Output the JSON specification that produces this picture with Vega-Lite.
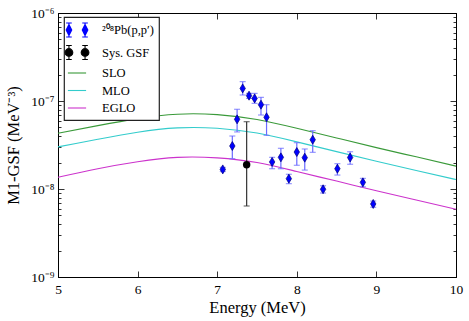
{
  "$schema": "https://vega.github.io/schema/vega-lite/v6.json",
  "width": 398,
  "height": 264,
  "autosize": {"type": "none"},
  "padding": {"left": 58, "top": 13, "right": 13, "bottom": 44},
  "config": {
    "font": "Liberation Serif",
    "view": {"stroke": "black", "strokeWidth": 1},
    "axis": {
      "grid": false,
      "domainColor": "black",
      "domainWidth": 1,
      "tickColor": "black",
      "tickWidth": 0.8,
      "labelColor": "black",
      "titleColor": "black",
      "labelFont": "Liberation Serif",
      "titleFont": "Liberation Serif",
      "labelFontSize": 13.5,
      "titleFontSize": 16.5,
      "titleFontWeight": "normal"
    }
  },
  "datasets": {
    "curves": [
      {"series": "SLO", "x": 5.0, "y": 4.30e-8},
      {"series": "SLO", "x": 5.5, "y": 5.25e-8},
      {"series": "SLO", "x": 6.0, "y": 6.31e-8},
      {"series": "SLO", "x": 6.5, "y": 7.08e-8},
      {"series": "SLO", "x": 7.0, "y": 7.00e-8},
      {"series": "SLO", "x": 7.5, "y": 6.17e-8},
      {"series": "SLO", "x": 8.0, "y": 4.90e-8},
      {"series": "SLO", "x": 8.5, "y": 3.80e-8},
      {"series": "SLO", "x": 9.0, "y": 2.95e-8},
      {"series": "SLO", "x": 9.5, "y": 2.32e-8},
      {"series": "SLO", "x": 10.0, "y": 1.82e-8},
      {"series": "MLO", "x": 5.0, "y": 3.01e-8},
      {"series": "MLO", "x": 5.5, "y": 3.67e-8},
      {"series": "MLO", "x": 6.0, "y": 4.42e-8},
      {"series": "MLO", "x": 6.5, "y": 4.95e-8},
      {"series": "MLO", "x": 7.0, "y": 4.90e-8},
      {"series": "MLO", "x": 7.5, "y": 4.32e-8},
      {"series": "MLO", "x": 8.0, "y": 3.43e-8},
      {"series": "MLO", "x": 8.5, "y": 2.66e-8},
      {"series": "MLO", "x": 9.0, "y": 2.07e-8},
      {"series": "MLO", "x": 9.5, "y": 1.62e-8},
      {"series": "MLO", "x": 10.0, "y": 1.28e-8},
      {"series": "EGLO", "x": 5.0, "y": 1.36e-8},
      {"series": "EGLO", "x": 5.5, "y": 1.70e-8},
      {"series": "EGLO", "x": 6.0, "y": 2.04e-8},
      {"series": "EGLO", "x": 6.5, "y": 2.29e-8},
      {"series": "EGLO", "x": 7.0, "y": 2.26e-8},
      {"series": "EGLO", "x": 7.5, "y": 2.00e-8},
      {"series": "EGLO", "x": 8.0, "y": 1.58e-8},
      {"series": "EGLO", "x": 8.5, "y": 1.23e-8},
      {"series": "EGLO", "x": 9.0, "y": 9.55e-9},
      {"series": "EGLO", "x": 9.5, "y": 7.50e-9},
      {"series": "EGLO", "x": 10.0, "y": 5.90e-9}
    ],
    "pb": [
      {"x": 7.07, "y": 1.67e-8, "lo": 1.58e-8, "hi": 1.76e-8},
      {"x": 7.19, "y": 3.08e-8, "lo": 2.21e-8, "hi": 4.0e-8},
      {"x": 7.25, "y": 6.19e-8, "lo": 4.45e-8, "hi": 8.05e-8},
      {"x": 7.32, "y": 1.39e-7, "lo": 1.17e-7, "hi": 1.66e-7},
      {"x": 7.40, "y": 1.15e-7, "lo": 1.07e-7, "hi": 1.22e-7},
      {"x": 7.47, "y": 1.07e-7, "lo": 9.4e-8, "hi": 1.22e-7},
      {"x": 7.55, "y": 9.08e-8, "lo": 6.93e-8, "hi": 1.10e-7},
      {"x": 7.62, "y": 6.53e-8, "lo": 4.07e-8, "hi": 9.08e-8},
      {"x": 7.69, "y": 2.03e-8, "lo": 1.70e-8, "hi": 2.29e-8},
      {"x": 7.80, "y": 2.29e-8, "lo": 1.70e-8, "hi": 2.90e-8},
      {"x": 7.90, "y": 1.31e-8, "lo": 1.15e-8, "hi": 1.47e-8},
      {"x": 8.00, "y": 2.63e-8, "lo": 1.86e-8, "hi": 3.36e-8},
      {"x": 8.10, "y": 2.27e-8, "lo": 1.64e-8, "hi": 2.85e-8},
      {"x": 8.20, "y": 3.63e-8, "lo": 2.61e-8, "hi": 4.60e-8},
      {"x": 8.33, "y": 9.93e-9, "lo": 9.0e-9, "hi": 1.09e-8},
      {"x": 8.51, "y": 1.70e-8, "lo": 1.44e-8, "hi": 1.94e-8},
      {"x": 8.67, "y": 2.28e-8, "lo": 1.91e-8, "hi": 2.65e-8},
      {"x": 8.83, "y": 1.19e-8, "lo": 1.06e-8, "hi": 1.32e-8},
      {"x": 8.96, "y": 6.76e-9, "lo": 6.2e-9, "hi": 7.3e-9}
    ],
    "sys": [
      {"x": 7.37, "y": 1.89e-8, "lo": 6.41e-9, "hi": 5.82e-8}
    ]
  },
  "layer": [
    {
      "data": {"name": "curves"},
      "mark": {"type": "line", "strokeWidth": 1.1, "interpolate": "natural"},
      "encoding": {
        "x": {
          "field": "x", "type": "quantitative",
          "scale": {"domain": [5, 10], "nice": false, "zero": false},
          "axis": {
            "orient": "bottom",
            "title": "Energy (MeV)",
            "values": [5, 6, 7, 8, 9, 10],
            "format": "d",
            "tickSize": -6,
            "labelPadding": 11,
            "titlePadding": 4,
            "labelFlush": false
          }
        },
        "y": {
          "field": "y", "type": "quantitative",
          "scale": {"type": "log", "domain": [1e-9, 1e-6], "nice": false},
          "axis": {
            "orient": "left",
            "title": "M1-GSF (MeV⁻³)",
            "values": [1e-9, 2e-9, 3e-9, 4e-9, 5e-9, 6e-9, 7e-9, 8e-9, 9e-9, 1e-8, 2e-8, 3e-8, 4e-8, 5e-8, 6e-8, 7e-8, 8e-8, 9e-8, 1e-7, 2e-7, 3e-7, 4e-7, 5e-7, 6e-7, 7e-7, 8e-7, 9e-7, 1e-6],
            "labelExpr": "abs(datum.value/pow(10, round(log(datum.value)/LN10)) - 1) < 0.01 ? (round(log(datum.value)/LN10) == -6 ? '10⁻⁶' : round(log(datum.value)/LN10) == -7 ? '10⁻⁷' : round(log(datum.value)/LN10) == -8 ? '10⁻⁸' : '10⁻⁹') : ''",
            "tickSize": {"condition": {"test": "abs(datum.value/pow(10, round(log(datum.value)/LN10)) - 1) < 0.01", "value": -6}, "value": -3},
            "labelPadding": 10,
            "titlePadding": 9,
            "labelFlush": false,
            "labelOverlap": false
          }
        },
        "color": {
          "field": "series", "type": "nominal",
          "scale": {
            "domain": ["²⁰⁸Pb(p,p′)", "Sys. GSF", "SLO", "MLO", "EGLO"],
            "range": ["#0000ff", "#000000", "#3a9a3a", "#33cccc", "#cc33cc"]
          },
          "legend": {
            "title": null,
            "orient": "none",
            "legendX": 6,
            "legendY": 4,
            "padding": 5,
            "fillColor": "white",
            "strokeColor": "#222222",
            "cornerRadius": 0,
            "labelFont": "Liberation Serif",
            "labelFontSize": 12.5,
            "labelColor": "black",
            "symbolSize": 196,
            "labelOffset": 17,
            "rowPadding": 2.5,
            "encode": {
              "legend": {"update": {"strokeWidth": {"value": 1.2}}},
              "symbols": {
                "update": {
                  "shape": {"signal": "datum.value === 'Sys. GSF' ? 'M-0.6,0A0.55,0.55 0 1,1 -1.7,0A0.55,0.55 0 1,1 -0.6,0Z M1.7,0A0.55,0.55 0 1,1 0.6,0A0.55,0.55 0 1,1 1.7,0Z M-1.15,-1L-1.15,1M-1.55,-1L-0.75,-1M-1.55,1L-0.75,1M1.15,-1L1.15,1M0.75,-1L1.55,-1M0.75,1L1.55,1' : datum.value === '²⁰⁸Pb(p,p′)' ? 'M-1.15,-0.8L-0.75,0L-1.15,0.8L-1.55,0Z M1.15,-0.8L1.55,0L1.15,0.8L0.75,0Z M-1.15,-1L-1.15,1M-1.55,-1L-0.75,-1M-1.55,1L-0.75,1M1.15,-1L1.15,1M0.75,-1L1.55,-1M0.75,1L1.55,1' : 'M-1.3,0L1.3,0'"},
                  "fill": {"signal": "datum.value === 'Sys. GSF' ? 'black' : datum.value === '²⁰⁸Pb(p,p′)' ? '#0000ff' : 'transparent'"},
                  "stroke": {"signal": "datum.value === '²⁰⁸Pb(p,p′)' ? '#3333ff' : scale('color', datum.value)"},
                  "strokeWidth": {"value": 1.1},
                  "size": {"value": 196},
                  "opacity": {"value": 1}
                }
              }
            }
          }
        }
      }
    },
    {
      "data": {"name": "pb"},
      "mark": {"type": "errorbar", "color": "#6a6aff", "thickness": 1.2, "ticks": {"size": 6, "color": "#6a6aff"}},
      "encoding": {
        "x": {"field": "x", "type": "quantitative", "axis": null},
        "y": {"field": "lo", "type": "quantitative", "axis": null},
        "y2": {"field": "hi"}
      }
    },
    {
      "data": {"name": "pb"},
      "mark": {"type": "point", "shape": "M0,-1L0.6,0L0,1L-0.6,0Z", "size": 81, "filled": true, "fill": "#0000ff", "stroke": "#00007a", "strokeWidth": 0.7, "opacity": 1},
      "encoding": {
        "x": {
          "field": "x", "type": "quantitative",
          "axis": {"orient": "top", "title": null, "labels": false, "values": [5, 6, 7, 8, 9, 10], "tickSize": -6}
        },
        "y": {
          "field": "y", "type": "quantitative",
          "axis": {
            "orient": "right", "title": null, "labels": false,
            "values": [1e-9, 2e-9, 3e-9, 4e-9, 5e-9, 6e-9, 7e-9, 8e-9, 9e-9, 1e-8, 2e-8, 3e-8, 4e-8, 5e-8, 6e-8, 7e-8, 8e-8, 9e-8, 1e-7, 2e-7, 3e-7, 4e-7, 5e-7, 6e-7, 7e-7, 8e-7, 9e-7, 1e-6],
            "tickSize": {"condition": {"test": "abs(datum.value/pow(10, round(log(datum.value)/LN10)) - 1) < 0.01", "value": -6}, "value": -3}
          }
        }
      }
    },
    {
      "data": {"name": "sys"},
      "mark": {"type": "errorbar", "color": "#333333", "thickness": 1.2, "ticks": {"size": 6, "color": "#333333"}},
      "encoding": {
        "x": {"field": "x", "type": "quantitative", "axis": null},
        "y": {"field": "lo", "type": "quantitative", "axis": null},
        "y2": {"field": "hi"}
      }
    },
    {
      "data": {"name": "sys"},
      "mark": {"type": "point", "shape": "circle", "size": 55, "filled": true, "color": "black", "opacity": 1},
      "encoding": {
        "x": {"field": "x", "type": "quantitative", "axis": null},
        "y": {"field": "y", "type": "quantitative", "axis": null}
      }
    }
  ],
  "resolve": {"axis": {"x": "independent", "y": "independent"}}
}
